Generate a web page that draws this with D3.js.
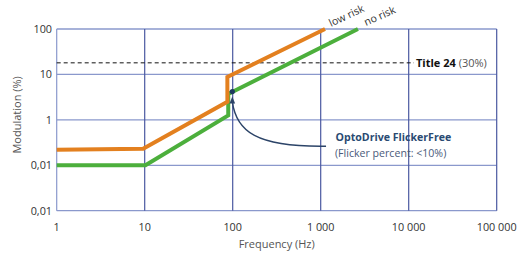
<!DOCTYPE html>
<html><head><meta charset="utf-8">
<script src="https://cdn.jsdelivr.net/npm/d3@7"></script>
<style>body{margin:0;background:#fff}svg{display:block;font-family:"Open Sans",sans-serif}</style>
</head><body><svg id="c" width="523" height="254"></svg>
<script>
// ---- data ----
const xTicks = [1, 10, 100, 1000, 10000, 100000];
const xTickLabels = ["1", "10", "100", "1 000", "10 000", "100 000"];
const yTicks = [100, 10, 1, 0.1, 0.01];
const yTickLabels = ["100", "10", "1", "0,01", "0,01"];
const lowRisk = [[1, 0.22], [9.6, 0.23], [87, 2.5], [87, 8.8], [1120, 100]];
const noRisk = [[1, 0.1], [10.2, 0.1], [89, 1.25], [89, 3.7], [2650, 100]];
const title24 = 18;
const product = [99, 4.2];
const arrowStart = [1150, 0.263];

const svg = d3.select("#c");
const x = d3.scaleLog().domain([1, 100000]).range([56.7, 496.7]);
const y = d3.scaleLog().domain([0.01, 100]).range([210.7, 29]);

// grid
svg.selectAll(".hg").data(yTicks).join("line")
  .attr("x1", x(1)).attr("x2", x(100000))
  .attr("y1", d => y(d)).attr("y2", d => y(d))
  .attr("stroke", "#8a98cc").attr("stroke-width", 1.3);
svg.selectAll(".vg").data(xTicks).join("line")
  .attr("x1", d => x(d)).attr("x2", d => x(d))
  .attr("y1", y(100)).attr("y2", y(0.01))
  .attr("stroke", (d, i) => (i === 0 ? "#8a98cc" : "#4a58a0")).attr("stroke-width", 1.2);

// tick labels
svg.selectAll(".yl").data(yTicks).join("text")
  .attr("x", 52).attr("y", d => y(d) + 4).attr("text-anchor", "end")
  .attr("font-size", 10.8).attr("fill", "#333").text((d, i) => yTickLabels[i]);
svg.selectAll(".xl").data(xTicks).join("text")
  .attr("x", d => x(d)).attr("y", 231).attr("text-anchor", "middle")
  .attr("font-size", 10.8).attr("fill", "#333").text((d, i) => xTickLabels[i]);

// axis titles
svg.append("text").attr("x", (x(1) + x(100000)) / 2).attr("y", 248)
  .attr("text-anchor", "middle").attr("font-size", 11).attr("fill", "#555").text("Frequency (Hz)");
svg.append("text").attr("transform", `translate(21,${(y(100) + y(0.01)) / 2 - 5}) rotate(-90)`)
  .attr("text-anchor", "middle").attr("font-size", 11).attr("fill", "#555").text("Modulation (%)");

// Title 24 dashed line
svg.append("line").attr("x1", x(1)).attr("x2", 414)
  .attr("y1", y(title24)).attr("y2", y(title24))
  .attr("stroke", "#111").attr("stroke-width", 1).attr("stroke-dasharray", "4,3");
const t24 = svg.append("text").attr("x", 416).attr("y", y(title24) + 4).attr("font-size", 11);
t24.append("tspan").attr("font-weight", "bold").attr("fill", "#111").text("Title 24");
t24.append("tspan").attr("fill", "#555").text(" (30%)");

// curves
const line = d3.line().x(d => x(d[0])).y(d => y(d[1]));
svg.append("path").attr("d", line(noRisk)).attr("fill", "none")
  .attr("stroke", "#4caf3c").attr("stroke-width", 4);
svg.append("path").attr("d", line(lowRisk)).attr("fill", "none")
  .attr("stroke", "#e3801f").attr("stroke-width", 4);

// curve labels
const lr = lowRisk[lowRisk.length - 1], nr = noRisk[noRisk.length - 1];
svg.append("text").attr("transform", `translate(${x(lr[0]) + 6},${y(lr[1]) - 2}) rotate(-25)`)
  .attr("font-size", 10.6).attr("fill", "#333").text("low risk");
svg.append("text").attr("transform", `translate(${x(nr[0]) + 8},${y(nr[1]) - 3}) rotate(-24)`)
  .attr("font-size", 10.6).attr("fill", "#333").text("no risk");

// arrow annotation
const ax0 = x(arrowStart[0]), ay0 = y(arrowStart[1]);
const ax1 = x(product[0]), ay1 = y(product[1]) + 10;
svg.append("path")
  .attr("d", `M${ax0},${ay0} C${ax0 - 70},${ay0 + 1} ${ax1 + 4},${ay0 - 15} ${ax1},${ay1}`)
  .attr("fill", "none").attr("stroke", "#2c4468").attr("stroke-width", 1.4);
svg.append("path")
  .attr("d", `M${ax1},${ay1 - 5} L${ax1 - 2.8},${ay1 + 2} L${ax1 + 2.8},${ay1 + 2} Z`)
  .attr("fill", "#2c4468");
svg.append("circle").attr("cx", x(product[0])).attr("cy", y(product[1])).attr("r", 2.6)
  .attr("fill", "#1e3a5e");

svg.append("text").attr("x", 335.5).attr("y", 141).attr("font-size", 10.6)
  .attr("font-weight", "bold").attr("fill", "#2a4a72").text("OptoDrive FlickerFree");
svg.append("text").attr("x", 335).attr("y", 156.5).attr("font-size", 10.6)
  .attr("fill", "#4a5a7a").text("(Flicker percent: <10%)");
</script></body></html>
